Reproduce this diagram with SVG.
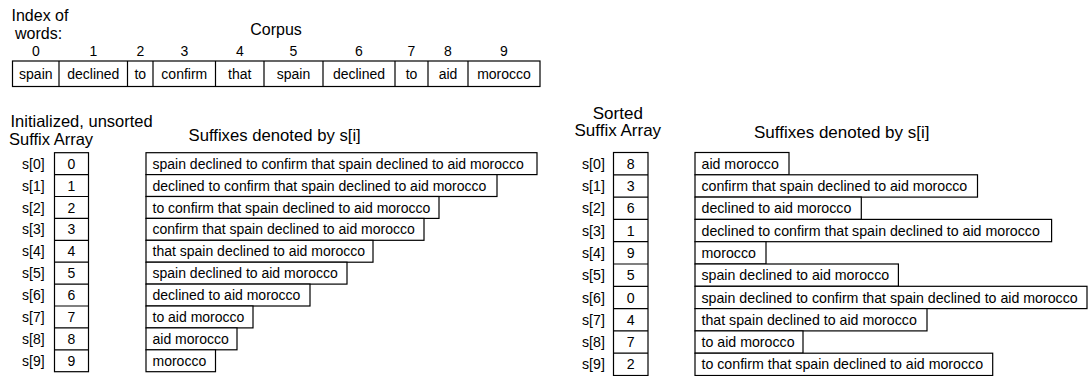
<svg xmlns="http://www.w3.org/2000/svg" width="1091" height="376" viewBox="0 0 1091 376">
<style>
  .bx { fill: #fff; stroke: #000; stroke-width: 1.2; }
  .ln { stroke: #000; stroke-width: 1.2; fill: none; }
  .t { font-family: "Liberation Sans", Arial, sans-serif; font-size: 14px; fill: #000; }
  .tr { font-family: "Liberation Sans", Arial, sans-serif; font-size: 14.2px; fill: #000; }
  .c { text-anchor: middle; }
  .h { font-family: "Liberation Sans", Arial, sans-serif; font-size: 16.5px; fill: #000; }
  .hr { font-family: "Liberation Sans", Arial, sans-serif; font-size: 17px; fill: #000; }
</style>
<rect width="1091" height="376" fill="#fff"/>

<g id="corpus">
  <text class="h" x="11.5" y="21" style="font-size:16px">Index of</text>
  <text class="h" x="15" y="39" style="font-size:16px">words:</text>
  <text class="h c" x="276" y="34.5" style="font-size:16px">Corpus</text>
  <g class="t c">
    <text x="35.8" y="56">0</text>
    <text x="93.3" y="56">1</text>
    <text x="140.3" y="56">2</text>
    <text x="184.3" y="56">3</text>
    <text x="239.8" y="56">4</text>
    <text x="293.5" y="56">5</text>
    <text x="359" y="56">6</text>
    <text x="411.5" y="56">7</text>
    <text x="448" y="56">8</text>
    <text x="504" y="56">9</text>
  </g>
  <rect class="bx" x="12.5" y="61" width="527.5" height="25.5"/>
  <path class="ln" d="M59 61V86.5M127.5 61V86.5M153 61V86.5M215.5 61V86.5M264 61V86.5M323 61V86.5M395 61V86.5M428 61V86.5M468 61V86.5"/>
  <g class="t c">
    <text x="35.8" y="78.5">spain</text>
    <text x="93.3" y="78.5">declined</text>
    <text x="140.3" y="78.5">to</text>
    <text x="184.3" y="78.5">confirm</text>
    <text x="239.8" y="78.5">that</text>
    <text x="293.5" y="78.5">spain</text>
    <text x="359" y="78.5">declined</text>
    <text x="411.5" y="78.5">to</text>
    <text x="448" y="78.5">aid</text>
    <text x="504" y="78.5">morocco</text>
  </g>
</g>

<g id="unsorted-array">
  <text class="h" x="10.5" y="126.5">Initialized, unsorted</text>
  <text class="h" x="9" y="145">Suffix Array</text>
  <rect class="bx" x="54.5" y="152.7" width="34" height="219"/>
  <path class="ln" d="M54.5 174.6H88.5M54.5 196.5H88.5M54.5 218.4H88.5M54.5 240.3H88.5M54.5 262.2H88.5M54.5 284.1H88.5M54.5 306H88.5M54.5 327.9H88.5M54.5 349.8H88.5"/>
  <g class="t">
    <text x="22" y="168.7">s[0]</text>
    <text x="22" y="190.6">s[1]</text>
    <text x="22" y="212.5">s[2]</text>
    <text x="22" y="234.4">s[3]</text>
    <text x="22" y="256.3">s[4]</text>
    <text x="22" y="278.2">s[5]</text>
    <text x="22" y="300.1">s[6]</text>
    <text x="22" y="322">s[7]</text>
    <text x="22" y="343.9">s[8]</text>
    <text x="22" y="365.8">s[9]</text>
  </g>
  <g class="t c">
    <text x="71.5" y="168.7">0</text>
    <text x="71.5" y="190.6">1</text>
    <text x="71.5" y="212.5">2</text>
    <text x="71.5" y="234.4">3</text>
    <text x="71.5" y="256.3">4</text>
    <text x="71.5" y="278.2">5</text>
    <text x="71.5" y="300.1">6</text>
    <text x="71.5" y="322">7</text>
    <text x="71.5" y="343.9">8</text>
    <text x="71.5" y="365.8">9</text>
  </g>
</g>

<g id="unsorted-suffixes">
  <text class="h" x="188.5" y="141" style="font-size:16.7px">Suffixes denoted by s[i]</text>
  <rect class="bx" x="146" y="152.7" width="391" height="21.9"/>
  <rect class="bx" x="146" y="174.6" width="351" height="21.9"/>
  <rect class="bx" x="146" y="196.5" width="293" height="21.9"/>
  <rect class="bx" x="146" y="218.4" width="278" height="21.9"/>
  <rect class="bx" x="146" y="240.3" width="227" height="21.9"/>
  <rect class="bx" x="146" y="262.2" width="201" height="21.9"/>
  <rect class="bx" x="146" y="284.1" width="164" height="21.9"/>
  <rect class="bx" x="146" y="306" width="107" height="21.9"/>
  <rect class="bx" x="146" y="327.9" width="91" height="21.9"/>
  <rect class="bx" x="146" y="349.8" width="69.5" height="21.9"/>
  <g class="t">
    <text x="152.5" y="168.7">spain declined to confirm that spain declined to aid morocco</text>
    <text x="152.5" y="190.6">declined to confirm that spain declined to aid morocco</text>
    <text x="152.5" y="212.5">to confirm that spain declined to aid morocco</text>
    <text x="152.5" y="234.4">confirm that spain declined to aid morocco</text>
    <text x="152.5" y="256.3">that spain declined to aid morocco</text>
    <text x="152.5" y="278.2">spain declined to aid morocco</text>
    <text x="152.5" y="300.1">declined to aid morocco</text>
    <text x="152.5" y="322">to aid morocco</text>
    <text x="152.5" y="343.9">aid morocco</text>
    <text x="152.5" y="365.8">morocco</text>
  </g>
</g>

<g id="sorted-array">
  <text class="hr c" x="617.8" y="119">Sorted</text>
  <text class="hr c" x="617.8" y="136">Suffix Array</text>
  <rect class="bx" x="613.5" y="152.5" width="34.5" height="223"/>
  <path class="ln" d="M613.5 174.8H648M613.5 197.1H648M613.5 219.4H648M613.5 241.7H648M613.5 264H648M613.5 286.3H648M613.5 308.6H648M613.5 330.9H648M613.5 353.2H648"/>
  <g class="tr">
    <text x="582" y="168.7">s[0]</text>
    <text x="582" y="191">s[1]</text>
    <text x="582" y="213.3">s[2]</text>
    <text x="582" y="235.6">s[3]</text>
    <text x="582" y="257.9">s[4]</text>
    <text x="582" y="280.2">s[5]</text>
    <text x="582" y="302.5">s[6]</text>
    <text x="582" y="324.8">s[7]</text>
    <text x="582" y="347.1">s[8]</text>
    <text x="582" y="369.4">s[9]</text>
  </g>
  <g class="tr c">
    <text x="630.8" y="168.7">8</text>
    <text x="630.8" y="191">3</text>
    <text x="630.8" y="213.3">6</text>
    <text x="630.8" y="235.6">1</text>
    <text x="630.8" y="257.9">9</text>
    <text x="630.8" y="280.2">5</text>
    <text x="630.8" y="302.5">0</text>
    <text x="630.8" y="324.8">4</text>
    <text x="630.8" y="347.1">7</text>
    <text x="630.8" y="369.4">2</text>
  </g>
</g>

<g id="sorted-suffixes">
  <text class="hr" x="754" y="137.5">Suffixes denoted by s[i]</text>
  <rect class="bx" x="695" y="152.5" width="94" height="22.3"/>
  <rect class="bx" x="695" y="174.8" width="282.5" height="22.3"/>
  <rect class="bx" x="695" y="197.1" width="166.3" height="22.3"/>
  <rect class="bx" x="695" y="219.4" width="356.6" height="22.3"/>
  <rect class="bx" x="695" y="241.7" width="71" height="22.3"/>
  <rect class="bx" x="695" y="264" width="203.4" height="22.3"/>
  <rect class="bx" x="695" y="286.3" width="392" height="22.3"/>
  <rect class="bx" x="695" y="308.6" width="232" height="22.3"/>
  <rect class="bx" x="695" y="330.9" width="108" height="22.3"/>
  <rect class="bx" x="695" y="353.2" width="297.7" height="22.3"/>
  <g class="tr">
    <text x="701.5" y="168.7">aid morocco</text>
    <text x="701.5" y="191">confirm that spain declined to aid morocco</text>
    <text x="701.5" y="213.3">declined to aid morocco</text>
    <text x="701.5" y="235.6">declined to confirm that spain declined to aid morocco</text>
    <text x="701.5" y="257.9">morocco</text>
    <text x="701.5" y="280.2">spain declined to aid morocco</text>
    <text x="701.5" y="302.5">spain declined to confirm that spain declined to aid morocco</text>
    <text x="701.5" y="324.8">that spain declined to aid morocco</text>
    <text x="701.5" y="347.1">to aid morocco</text>
    <text x="701.5" y="369.4">to confirm that spain declined to aid morocco</text>
  </g>
</g>
</svg>
